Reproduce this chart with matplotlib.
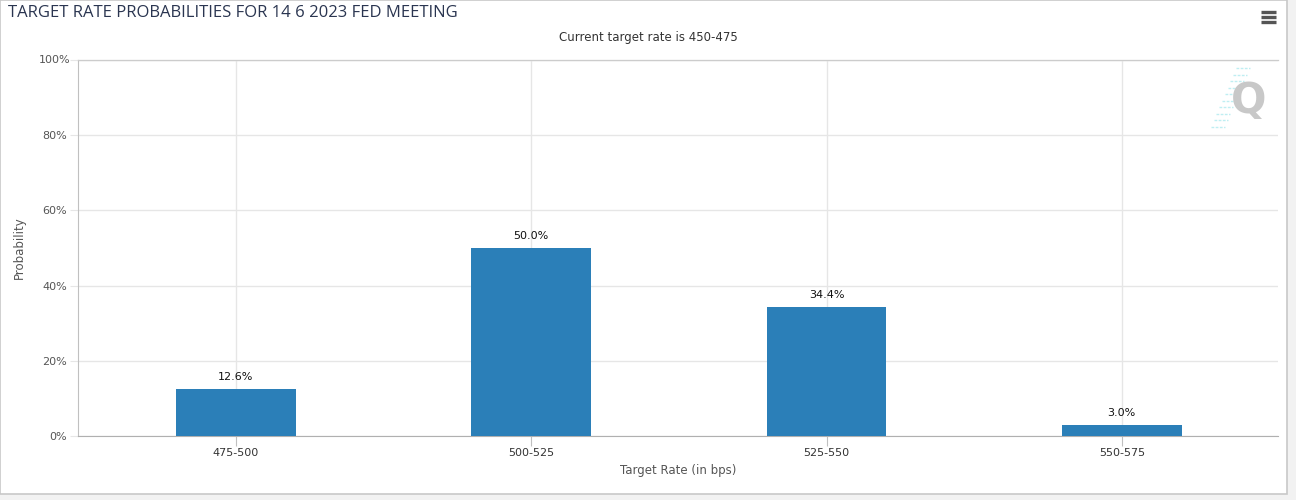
import matplotlib
matplotlib.use("Agg")
import matplotlib.pyplot as plt
from matplotlib.patches import Rectangle

# =========================================================
# DADOS
# =========================================================

faixas = ["475-500", "500-525", "525-550", "550-575"]
probabilidades = [12.6, 50.0, 34.4, 3.0]
rotulos = ["12.6%", "50.0%", "34.4%", "3.0%"]
ticks_y = [0, 20, 40, 60, 80, 100]

titulo = "TARGET RATE PROBABILITIES FOR 14 6 2023 FED MEETING"
subtitulo = "Current target rate is 450-475"

COR_BARRA = "#2b7fb8"
COR_GRADE = "#e6e6e6"
COR_TEXTO = "#555555"

plt.rcParams["font.family"] = ["DejaVu Sans"]

# =========================================================
# FIGURA
# =========================================================

fig = plt.figure(figsize=(12.96, 5.0), dpi=100)
fig.patch.set_facecolor("#f2f2f2")

# fundo branco do painel com borda cinza
fig.patches.append(Rectangle((0, 6 / 500), 1287 / 1296, 1 - 6 / 500,
                             transform=fig.transFigure, facecolor="white",
                             edgecolor="#c8c8c8", linewidth=1.2, zorder=-10))

ax = fig.add_axes([78 / 1296, 64 / 500, 1200 / 1296, 376 / 500])
ax.set_facecolor("none")

x = list(range(len(faixas)))
ax.bar(x, probabilidades, width=0.406, color=COR_BARRA, zorder=3)

for xi, v, r in zip(x, probabilidades, rotulos):
    ax.text(xi, v + 1.8, r, ha="center", va="bottom", fontsize=8,
            color="#111111", zorder=4)

ax.set_xlim(-0.535, 3.529)
ax.set_ylim(0, 98.7)
ax.set_yticks(ticks_y)
ax.set_yticklabels([f"{t}%" for t in ticks_y])
ax.set_xticks(x)
ax.set_xticklabels(faixas)

ax.grid(True, color=COR_GRADE, linewidth=1, zorder=0)
ax.axhline(100, color=COR_GRADE, linewidth=1, clip_on=False, zorder=0)

ax.spines["right"].set_visible(False)
ax.spines["left"].set_color("#c0c0c0")
ax.spines["bottom"].set_color("#b0b0b0")
ax.spines["top"].set_color("#cccccc")

ax.tick_params(axis="y", length=6, color=COR_GRADE, labelsize=8,
               labelcolor=COR_TEXTO, pad=2)
ax.tick_params(axis="x", length=7, color="#c0c0c0", labelsize=8,
               labelcolor="#333333", pad=2)
# rotulo 100% fica acima do topo do eixo
ax.yaxis.get_major_ticks()[-1].label1.set_visible(False)
ax.text(-8 / 1200, 100, "100%", transform=ax.get_yaxis_transform(),
        ha="right", va="center", fontsize=8, color=COR_TEXTO)

ax.set_ylabel("Probability", fontsize=8.5, color=COR_TEXTO, labelpad=12)
ax.set_xlabel("Target Rate (in bps)", fontsize=8.5, color=COR_TEXTO, labelpad=4)

# titulos
fig.text(8 / 1296, 1 - 13 / 500, titulo, ha="left", va="center",
         fontsize=12, color="#2a3550", family=["Open Sans", "DejaVu Sans"])
fig.text(648 / 1296, 1 - 37 / 500, subtitulo, ha="center", va="center",
         fontsize=8.5, color="#333333")

# icone de menu
for dy in [12, 17, 22]:
    fig.add_artist(plt.Line2D([1261 / 1296, 1276 / 1296],
                              [1 - dy / 500, 1 - dy / 500],
                              transform=fig.transFigure, color="#555555",
                              linewidth=2.4, solid_capstyle="butt"))

# marca d'agua
fig.text(1249 / 1296, 1 - 101 / 500, "Q", ha="center", va="center",
         fontsize=30, fontweight="bold", color="#c8c8c8")
for i in range(10):
    yy = 1 - (68 + i * 6.5) / 500
    x1 = (1250 - i * 2.8) / 1296
    fig.add_artist(plt.Line2D([x1 - 14 / 1296, x1], [yy, yy],
                              transform=fig.transFigure, color="#bfeef2",
                              linewidth=1, linestyle=(0, (2, 1))))

fig.savefig("out.png", dpi=100, facecolor=fig.get_facecolor())
